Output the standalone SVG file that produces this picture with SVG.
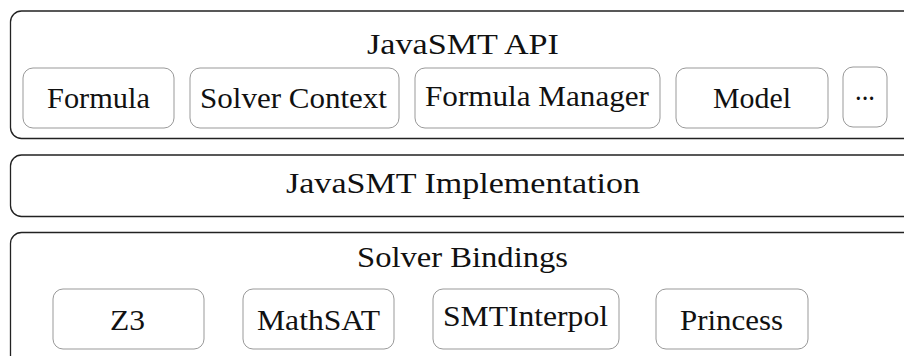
<svg xmlns="http://www.w3.org/2000/svg" width="904" height="356" viewBox="0 0 904 356">
<style>
.outer{fill:#fff;stroke:#222;stroke-width:1.3}
.inner{fill:#fff;stroke:#999;stroke-width:1}
.t{font-family:'Liberation Serif','DejaVu Serif','Noto Serif','Tinos','Nimbus Roman','Nimbus Roman No9 L','FreeSerif','Times New Roman',Times,Georgia,serif;font-size:30px;fill:#111}
</style>
<rect width="904" height="356" fill="#fff"/>
<g id="api">
<rect class="outer" x="10.5" y="11" width="920" height="127.5" rx="11"/>
<text class="t" x="367" y="54" textLength="192" lengthAdjust="spacingAndGlyphs">JavaSMT API</text>
</g>
<g id="formula">
<rect class="inner" x="23" y="68" width="151" height="60" rx="10"/>
<text class="t" x="47" y="108" textLength="103" lengthAdjust="spacingAndGlyphs">Formula</text>
</g>
<g id="solver-context">
<rect class="inner" x="190" y="68" width="209" height="60" rx="10"/>
<text class="t" x="200" y="108" textLength="187" lengthAdjust="spacingAndGlyphs">Solver Context</text>
</g>
<g id="formula-manager">
<rect class="inner" x="415" y="68" width="245" height="60" rx="10"/>
<text class="t" x="425" y="106" textLength="224" lengthAdjust="spacingAndGlyphs">Formula Manager</text>
</g>
<g id="model">
<rect class="inner" x="676" y="68" width="152" height="60" rx="10"/>
<text class="t" x="713" y="108" textLength="78" lengthAdjust="spacingAndGlyphs">Model</text>
</g>
<g id="more">
<rect class="inner" x="843" y="67" width="44" height="60" rx="10"/>
<text class="t" x="855" y="100" textLength="20" lengthAdjust="spacingAndGlyphs">...</text>
</g>
<g id="implementation">
<rect class="outer" x="10.5" y="155" width="920" height="61.5" rx="11"/>
<text class="t" x="286" y="193" textLength="354" lengthAdjust="spacingAndGlyphs">JavaSMT Implementation</text>
</g>
<g id="bindings">
<rect class="outer" x="10.5" y="232.5" width="920" height="160" rx="11"/>
<text class="t" x="357" y="267" textLength="211" lengthAdjust="spacingAndGlyphs">Solver Bindings</text>
</g>
<g id="z3">
<rect class="inner" x="53" y="289" width="151" height="60" rx="10"/>
<text class="t" x="110" y="330" textLength="35" lengthAdjust="spacingAndGlyphs">Z3</text>
</g>
<g id="mathsat">
<rect class="inner" x="243" y="289" width="151" height="60" rx="10"/>
<text class="t" x="257" y="330" textLength="123" lengthAdjust="spacingAndGlyphs">MathSAT</text>
</g>
<g id="smtinterpol">
<rect class="inner" x="433" y="289" width="186" height="60" rx="10"/>
<text class="t" x="443" y="326" textLength="165" lengthAdjust="spacingAndGlyphs">SMTInterpol</text>
</g>
<g id="princess">
<rect class="inner" x="656" y="289" width="152" height="60" rx="10"/>
<text class="t" x="680" y="330" textLength="103" lengthAdjust="spacingAndGlyphs">Princess</text>
</g>
<g id="connectors"></g>
</svg>
